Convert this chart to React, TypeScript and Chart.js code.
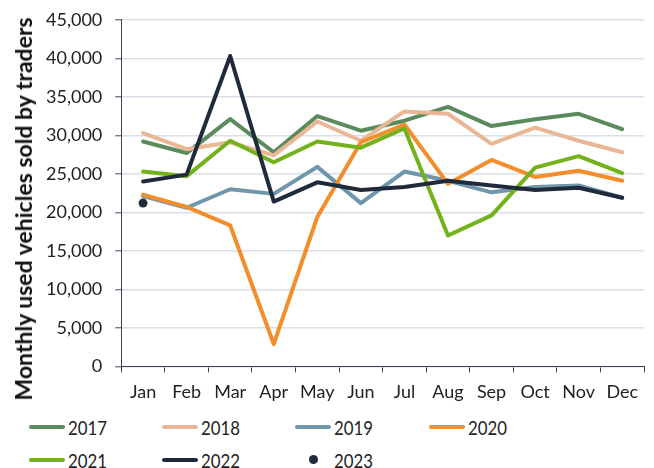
import React, { useEffect, useRef } from "react";
import { Chart, registerables } from "chart.js";

Chart.register(...registerables);

const months = ["Jan", "Feb", "Mar", "Apr", "May", "Jun", "Jul", "Aug", "Sep", "Oct", "Nov", "Dec"];

const y2017 = [29200, 27700, 32100, 27800, 32500, 30600, 31900, 33700, 31200, 32100, 32800, 30800];
const y2018 = [30300, 28200, 29100, 27400, 31800, 29300, 33100, 32800, 28900, 31000, 29300, 27800];
const y2019 = [22100, 20600, 23000, 22400, 25900, 21200, 25300, 24100, 22600, 23300, 23500, 21900];
const y2020 = [22300, 20700, 18300, 2900, 19400, 29100, 31400, 23700, 26800, 24600, 25400, 24100];
const y2021 = [25300, 24700, 29300, 26500, 29200, 28400, 30900, 17000, 19600, 25800, 27300, 25100];
const y2022 = [24000, 24900, 40300, 21400, 23900, 22900, 23300, 24100, 23500, 22900, 23200, 21900];
const y2023 = [21200, null, null, null, null, null, null, null, null, null, null, null];

const seriesNames = ["2017", "2018", "2019", "2020", "2021", "2022", "2023"];
const seriesColors = ["#5b8b5c", "#e9b796", "#7096ab", "#f28e2b", "#74b21c", "#1f2b3b", "#1f2b3b"];

const yTitle = "Monthly used vehicles sold by traders";
const FONT = "Lato, 'Noto Sans', sans-serif";

export default function App() {
  const ref = useRef<HTMLCanvasElement | null>(null);

  useEffect(() => {
    if (!ref.current) return;
    const lineData = [y2017, y2018, y2019, y2020, y2021, y2022];
    const datasets: any[] = lineData.map((d, i) => ({
      label: seriesNames[i],
      data: d,
      borderColor: seriesColors[i],
      backgroundColor: seriesColors[i],
      borderWidth: 4,
      pointRadius: 0,
      pointHoverRadius: 0,
      tension: 0,
      borderJoinStyle: "round",
      borderCapStyle: "round",
      order: 10 - i,
    }));
    datasets.push({
      label: seriesNames[6],
      data: y2023,
      borderColor: seriesColors[6],
      backgroundColor: seriesColors[6],
      showLine: false,
      pointRadius: 4.5,
      pointBorderWidth: 0,
      order: 0,
    });

    const chart = new Chart(ref.current, {
      type: "line",
      data: { labels: months, datasets },
      options: {
        animation: false,
        responsive: false,
        maintainAspectRatio: false,
        layout: { padding: { left: 33, right: 10, top: 0, bottom: 2 } },
        plugins: {
          legend: { display: false },
          tooltip: { enabled: false },
        },
        scales: {
          x: {
            type: "category",
            offset: true,
            grid: {
              offset: true,
              drawOnChartArea: false,
              drawTicks: true,
              tickLength: 6,
              tickColor: "#3b4350",
              tickWidth: 1,
            },
            border: { display: true, color: "#3b4350", width: 1 },
            ticks: {
              color: "#222",
              font: { family: FONT, size: 18 },
              padding: 9,
              maxRotation: 0,
              autoSkip: false,
            },
          },
          y: {
            min: 0,
            max: 45000,
            grid: {
              color: "#d8e0ea",
              lineWidth: 1.6,
              drawTicks: true,
              tickLength: 6,
              tickColor: "#3b4350",
              tickWidth: 1,
            },
            border: { display: true, color: "#3b4350", width: 1 },
            ticks: {
              stepSize: 5000,
              color: "#222",
              font: { family: FONT, size: 18 },
              padding: 13,
              callback: (v: any) => Number(v).toLocaleString("en-US"),
            },
            title: { display: false, text: yTitle },
          },
        },
      },
    });
    return () => chart.destroy();
  }, []);

  const legendItems = seriesNames.map((name, i) => ({ name, color: seriesColors[i], dot: i === 6 }));

  return (
    <div style={{ position: "absolute", left: 0, top: 0, width: 654, height: 468, background: "#fff", overflow: "hidden" }}>
      <canvas
        ref={ref}
        width={654}
        height={418}
        style={{ position: "absolute", left: 0, top: -4, display: "block", width: 654, height: 418 }}
      />
      <div
        style={{
          position: "absolute",
          left: 23,
          top: 209,
          transform: "translate(-50%, -50%) rotate(-90deg)",
          whiteSpace: "nowrap",
          fontFamily: FONT,
          fontWeight: "bold",
          fontSize: 23,
          lineHeight: "26px",
          color: "#111",
        }}
      >
        {yTitle}
      </div>
      <div
        style={{
          position: "absolute",
          left: 29,
          top: 415,
          display: "grid",
          gridTemplateColumns: "133px 133px 134px 133px",
          rowGap: 10,
          fontFamily: FONT,
          fontSize: 20,
          color: "#222",
        }}
      >
        {legendItems.map((it) => (
          <div key={it.name} style={{ display: "flex", alignItems: "center", height: 23 }}>
            <div style={{ width: 36, height: 23, display: "flex", alignItems: "center", justifyContent: "center" }}>
              {it.dot ? (
                <div style={{ width: 9, height: 9, borderRadius: "50%", background: it.color }} />
              ) : (
                <div style={{ width: 36, height: 4, borderRadius: 2, background: it.color }} />
              )}
            </div>
            <span style={{ marginLeft: 3, display: "inline-block", transform: "scaleX(0.84)", transformOrigin: "left center" }}>
              {it.name}
            </span>
          </div>
        ))}
      </div>
    </div>
  );
}
